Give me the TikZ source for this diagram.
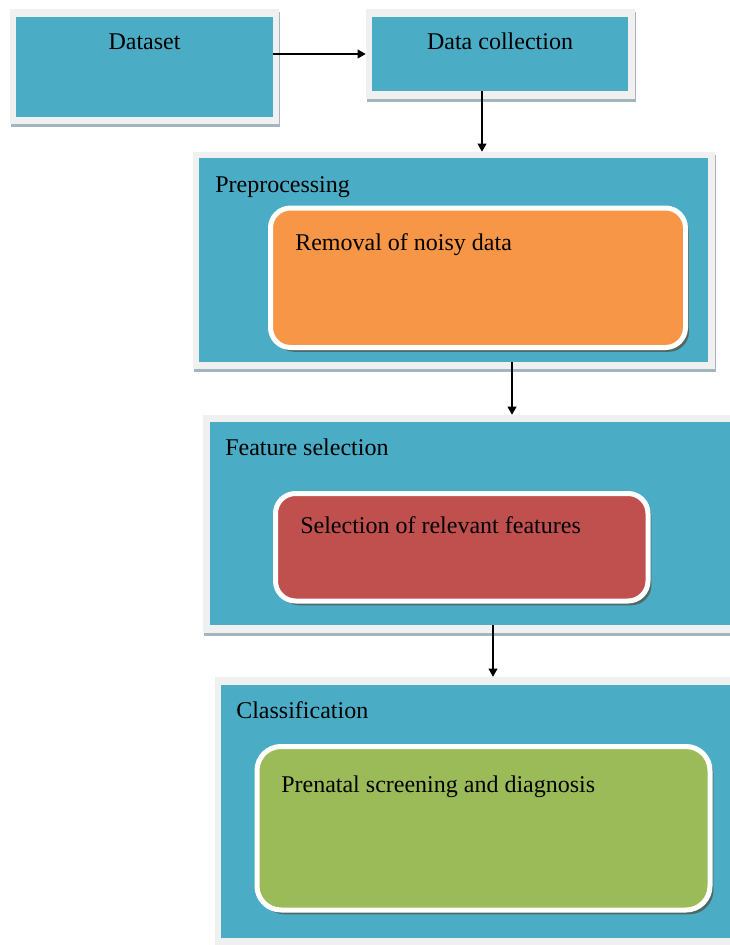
\documentclass[tikz,border=0pt]{standalone}
\usepackage{fontspec}
\setmainfont{Liberation Serif}
\usetikzlibrary{fit,shadows,arrows.meta}
\definecolor{boxblue}{HTML}{4BACC6}
\definecolor{boxorange}{HTML}{F79646}
\definecolor{boxred}{HTML}{C0504D}
\definecolor{boxgreen}{HTML}{9BBB59}
\definecolor{framegray}{HTML}{F0F0F0}
\definecolor{frameshadow}{HTML}{A3B6BF}
\definecolor{innershadow}{HTML}{4F6A66}
\begin{document}
\begin{tikzpicture}[x=0.75pt,y=-0.75pt,
  frame/.style={fill=framegray, draw=none, inner sep=0pt,
    drop shadow={shadow xshift=0.75pt, shadow yshift=-2.6pt, fill=frameshadow, opacity=1}},
  bluebox/.style={fill=boxblue, draw=none, inner sep=0pt},
  inner/.style={draw=white, line width=3.75pt, rounded corners=15pt, inner sep=0pt,
    drop shadow={shadow xshift=2.6pt, shadow yshift=-3.2pt, fill=innershadow, opacity=1}},
  lbl/.style={inner sep=0pt, font=\fontsize{18}{21}\selectfont, text=black},
  arr/.style={draw=black, line width=1.1pt, -{Triangle[length=6pt,width=6.5pt]}}]
\clip (0,0) rectangle (730,945);
\fill[white] (0,0) rectangle (730,945);

% Dataset
\node[frame, fit={(10,9)(279,124)}] (dsf) {};
\node[bluebox, fit={(16,17)(273,117)}] (ds) {};
\node[lbl, anchor=base] (dst) at (144.5,50) {Dataset};

% Data collection
\node[frame, fit={(366,9)(635,99)}] (dcf) {};
\node[bluebox, fit={(372,17)(628,91)}] (dc) {};
\node[lbl, anchor=base] (dct) at (500,50) {Data collection};

% Preprocessing
\node[frame, fit={(193,152)(715,369)}] (ppf) {};
\node[bluebox, fit={(199,158)(708,362)}] (pp) {};
\node[lbl, anchor=base west] (ppt) at (215,192) {Preprocessing};
\node[inner, fill=boxorange, fit={(270.5,208)(685.5,347.5)}] (rm) {};
\node[lbl, anchor=base west] (rmt) at (295,250) {Removal of noisy data};

% Feature selection
\node[frame, fit={(203,415)(745,633)}] (fsf) {};
\node[bluebox, fit={(210,422)(745,625)}] (fs) {};
\node[lbl, anchor=base west] (fst) at (225,455) {Feature selection};
\node[inner, fill=boxred, fit={(275.5,493.5)(648,601)}] (sel) {};
\node[lbl, anchor=base west] (selt) at (300,533) {Selection of relevant features};

% Classification
\node[frame, fit={(215,677)(745,955)}] (clf) {};
\node[bluebox, fit={(221,685)(745,938)}] (cl) {};
\node[lbl, anchor=base west] (clt) at (236,718) {Classification};
\node[inner, fill=boxgreen, rounded corners=18pt, fit={(257,746.5)(710,910)}] (pr) {};
\node[lbl, anchor=base west] (prt) at (281,792) {Prenatal screening and diagnosis};

% Connectors
\coordinate (a2) at (482,0);
\coordinate (a3) at (512,0);
\coordinate (a4) at (493,0);
\draw[arr] (ds.east |- dc.west) -- (dcf.west);
\draw[arr] (dc.south -| a2) -- (ppf.north -| a2);
\draw[arr] (pp.south -| a3) -- (fsf.north -| a3);
\draw[arr] (fs.south -| a4) -- (clf.north -| a4);
\end{tikzpicture}
\end{document}
